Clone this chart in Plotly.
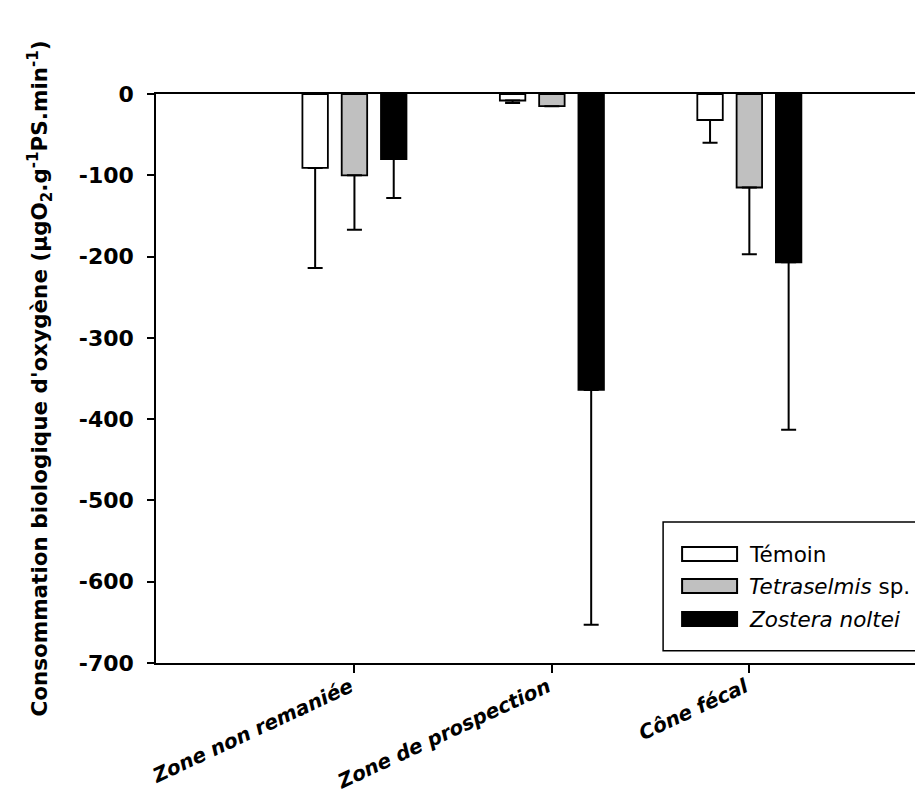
import plotly.graph_objects as go

categories = ["Zone non remaniée", "Zone de prospection", "Cône fécal"]
series_names = ["Témoin", "<i>Tetraselmis</i> sp.", "<i>Zostera noltei</i>"]
series_colors = ["#ffffff", "#c0c0c0", "#000000"]
temoin = [-91, -8, -32]
temoin_err = [123, 3, 28]
tetraselmis = [-100, -15, -115]
tetraselmis_err = [67, 0, 82]
zostera = [-80, -364, -207]
zostera_err = [48, 289, 206]
y_ticks = [0, -100, -200, -300, -400, -500, -600, -700]

values = [temoin, tetraselmis, zostera]
errors = [temoin_err, tetraselmis_err, zostera_err]

W, H = 923, 799
L, R, T, B = 147.7, 0, 86, 144
pw = W - L - R
ph = H - T - B
FONT = "DejaVu Sans, Liberation Sans, Arial"

fig = go.Figure()
for name, col, vals, errs in zip(series_names, series_colors, values, errors):
    fig.add_trace(go.Bar(
        x=list(range(len(categories))), y=vals, name=name,
        marker=dict(color=col, line=dict(color="#000000", width=1.8)),
        error_y=dict(type="data", symmetric=False, array=[0] * len(errs),
                     arrayminus=errs, color="#000000", thickness=2, width=7.5),
        showlegend=False,
    ))

fig.update_layout(
    width=W, height=H,
    margin=dict(l=L, r=R, t=T, b=B),
    paper_bgcolor="white", plot_bgcolor="white",
    barmode="group", bargap=0.403, bargroupgap=0.352,
    font=dict(family=FONT, size=20, color="#000000"),
    xaxis=dict(
        range=[-1.005, 2.92], tickmode="array",
        tickvals=list(range(len(categories))),
        ticktext=["<b><i>%s</i></b>" % c for c in categories],
        tickangle=-25, ticks="outside", ticklen=8, tickwidth=1.5, tickcolor="#000",
        showline=True, linecolor="#000", linewidth=1.5, mirror=True,
        showgrid=False, zeroline=False, automargin=False,
        ticklabelstandoff=-5, ticklabelshift=-4,
        tickfont=dict(size=20, family=FONT),
    ),
    yaxis=dict(
        range=[-700, 0], tickmode="array", tickvals=y_ticks,
        ticktext=["<b>%d</b>" % v for v in y_ticks],
        ticks="outside", ticklen=7, tickwidth=1.5, tickcolor="#000",
        showline=True, linecolor="#000", linewidth=1.5,
        showgrid=False, zeroline=False, ticklabelstandoff=9, automargin=False,
        tickfont=dict(size=22, family=FONT),
        title=dict(text="<b>Consommation biologique d'oxygène (µgO<sub>2</sub>.g<sup>-1</sup>PS.min<sup>-1</sup>)</b>",
                   font=dict(size=21.5, family=FONT), standoff=25),
    ),
)

# custom legend (box, swatches, labels)
def px_x(p):
    return (p - L) / pw
def px_y(p):
    return (H - B - p) / ph

fig.add_shape(type="rect", xref="paper", yref="paper",
              x0=px_x(655), x1=px_x(935), y0=px_y(642.7), y1=px_y(514),
              line=dict(color="#000", width=1.5), fillcolor="white", layer="above")
row_y = [546, 578, 611]
for i, (name, col) in enumerate(zip(series_names, series_colors)):
    cy = row_y[i]
    fig.add_shape(type="rect", xref="paper", yref="paper",
                  x0=px_x(674), x1=px_x(729), y0=px_y(cy + 7), y1=px_y(cy - 7),
                  line=dict(color="#000", width=2), fillcolor=col, layer="above")
    fig.add_annotation(xref="paper", yref="paper", x=px_x(739), y=px_y(cy),
                       text=name, showarrow=False, xanchor="left", yanchor="middle",
                       font=dict(size=21.5, family=FONT))

fig.write_html("out.html")
